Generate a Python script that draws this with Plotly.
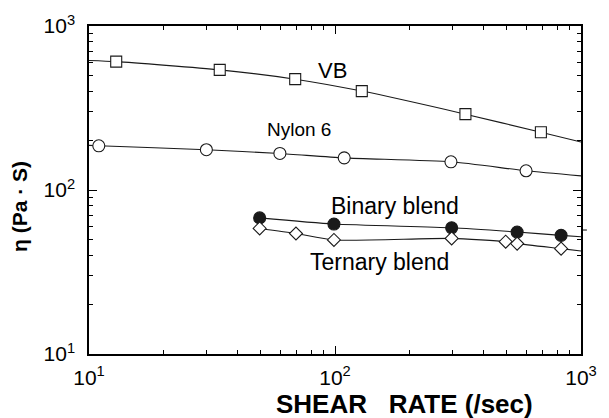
import plotly.graph_objects as go

# ---- data ----
vb_x = [12.9, 34, 68.9, 128.5, 339, 687]
vb_y = [606, 540, 474, 401, 290, 225]
vb_curve_x = [10, 12.9, 34, 68.9, 128.5, 339, 687, 1000]
vb_curve_y = [616, 606, 540, 474, 401, 290, 225, 196]

ny_x = [10.96, 30, 59.7, 109, 296, 598]
ny_y = [186, 176, 167, 157, 148.6, 131]
ny_curve_x = [10, 10.96, 30, 59.7, 109, 296, 598, 1000]
ny_curve_y = [187, 186, 176, 167, 157, 148.6, 131, 122]

bi_x = [49.4, 99, 298, 550, 830]
bi_y = [67.6, 62, 58.8, 55.4, 52.9]
bi_curve_x = [49.4, 99, 298, 550, 830, 1000]
bi_curve_y = [67.6, 62, 58.8, 55.4, 52.9, 51.9]

te_x = [49.4, 69.4, 99, 298, 494, 550, 830]
te_y = [58.3, 54.3, 49.6, 50.7, 48.4, 47.1, 43.9]
te_curve_x = [49.4, 69.4, 99, 298, 494, 550, 830, 1000]
te_curve_y = [58.3, 54.3, 49.6, 50.7, 48.4, 47.1, 43.9, 42.5]

decades = [10, 100, 1000]
decade_labels = ["10<sup>1</sup>", "10<sup>2</sup>", "10<sup>3</sup>"]
minor_vals = [m * d for d in (10, 100) for m in range(2, 10)]

FONT = "Liberation Sans, Arial, sans-serif"
LC = "#1a1a1a"

fig = go.Figure()

def add_series(cx, cy, px, py, symbol, size, fill):
    fig.add_trace(go.Scatter(x=cx, y=cy, mode="lines",
                             line=dict(color=LC, width=1.1, shape="spline", smoothing=0.6),
                             hoverinfo="skip", showlegend=False))
    fig.add_trace(go.Scatter(x=px, y=py, mode="markers",
                             marker=dict(symbol=symbol, size=size, color=fill,
                                         line=dict(color=LC, width=1.1)),
                             showlegend=False))

add_series(vb_curve_x, vb_curve_y, vb_x, vb_y, "square", 11, "white")
add_series(ny_curve_x, ny_curve_y, ny_x, ny_y, "circle", 12, "white")
add_series(bi_curve_x, bi_curve_y, bi_x, bi_y, "circle", 12, LC)
add_series(te_curve_x, te_curve_y, te_x, te_y, "diamond", 10, "white")

axis_common = dict(
    type="log", tickmode="array", tickvals=decades, ticktext=decade_labels,
    ticks="inside", ticklen=8, tickwidth=1.2, tickcolor="black",
    showline=True, linecolor="black", linewidth=1.5, mirror="ticks",
    showgrid=False, zeroline=False,
    tickfont=dict(family=FONT, size=21, color="black"),
    minor=dict(tickmode="array", tickvals=minor_vals, ticks="inside",
               ticklen=4, tickwidth=1, tickcolor="black", showgrid=False),
)

fig.update_layout(
    width=609, height=418,
    margin=dict(l=89, r=18, t=23, b=64),
    paper_bgcolor="white", plot_bgcolor="white",
    xaxis=dict(range=[1, 3], ticklabelstandoff=4, **axis_common),
    yaxis=dict(range=[1, 3], ticklabelstandoff=8, **axis_common),
    font=dict(family=FONT, color="black"),
)

def label(text, x, y, size, bold=False, angle=0):
    fig.add_annotation(text=f"<b>{text}</b>" if bold else text,
                       xref="paper", yref="paper", x=x, y=y,
                       xanchor="center", yanchor="middle", showarrow=False,
                       textangle=angle,
                       font=dict(family=FONT, size=size, color="black"))

label("VB", 0.494, 0.865, 22)
label("Nylon 6", 0.426, 0.684, 19)
label("Binary blend", 0.622, 0.451, 23)
label("Ternary blend", 0.590, 0.282, 23)
label("SHEAR&nbsp;&nbsp;&nbsp;RATE (/sec)", 0.641, -0.151, 26, bold=True)
label("η (Pa · S)", -0.141, 0.450, 21, bold=True, angle=-90)

fig.add_shape(type="line", xref="paper", yref="paper",
              x0=1.0, x1=1.012, y0=0.378, y1=0.378,
              line=dict(color="black", width=1))

fig.write_html("out.html")
